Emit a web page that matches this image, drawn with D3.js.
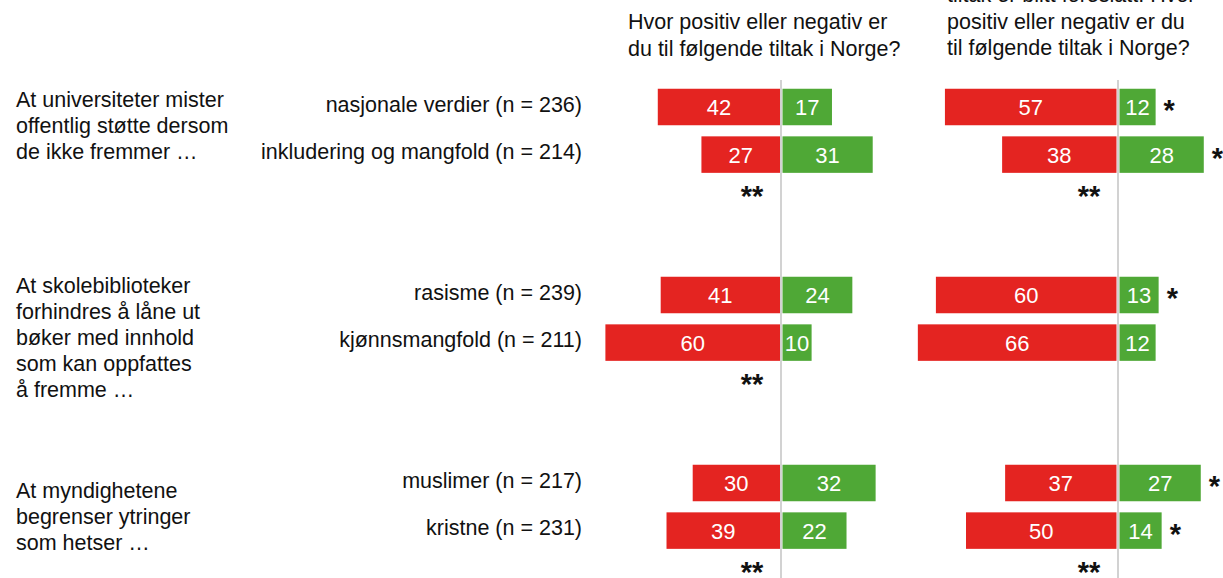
<!DOCTYPE html>
<html><head><meta charset="utf-8">
<script src="https://cdn.jsdelivr.net/npm/d3@7"></script>
<style>
html,body{margin:0;padding:0;background:#fff;}
svg{display:block;font-family:"Liberation Sans",Arial,Helvetica,sans-serif;}
</style></head>
<body><svg id="c" width="1223" height="578"></svg>
<script>
// ---- data ----
const groupLabels = [
  ["At universiteter mister","offentlig støtte dersom","de ikke fremmer …"],
  ["At skolebiblioteker","forhindres å låne ut","bøker med innhold","som kan oppfattes","å fremme …"],
  ["At myndighetene","begrenser ytringer","som hetser …"]
];
const categories = [
  "nasjonale verdier (n = 236)","inkludering og mangfold (n = 214)",
  "rasisme (n = 239)","kjønnsmangfold (n = 211)",
  "muslimer (n = 217)","kristne (n = 231)"
];
const categoryGroup = [0,0,1,1,2,2];
const negativeNow = [42,27,41,60,30,39];
const positiveNow = [17,31,24,10,32,22];
const negativeProposed = [57,38,60,66,37,50];
const positiveProposed = [12,28,13,12,27,14];
const starsProposed = ["*","*","*","","*","*"];
const groupStarsNow = ["**","**","**"];
const groupStarsProposed = ["**","","**"];
const titleNow = ["Hvor positiv eller negativ er","du til følgende tiltak i Norge?"];
const titleProposed = ["tiltak er blitt foreslått. Hvor","positiv eller negativ er du","til følgende tiltak i Norge?"];

// ---- layout ----
const svg = d3.select("#c");
const RED = "#e42421", GREEN = "#4fa836", GRID = "#d2d2d2";
const FONT = 21.5;
const STAR = 29;
const rowY = d3.scaleLinear().domain([0, 2]).range([107, 483]); // centre of first row in each group
const rowStep = 47.6;
const barH = 36.5;
const yOf = i => rowY(categoryGroup[i]) + (i % 2) * rowStep;

const panels = [
  {cx: 781, gap: 1, scale: d3.scaleLinear().domain([0,100]).range([0,291]), neg: negativeNow, pos: positiveNow,
   stars: null, gstars: groupStarsNow, title: titleNow, tx: 628, ty: [29, 56]},
  {cx: 1118, gap: 1.5, scale: d3.scaleLinear().domain([0,100]).range([0,301]), neg: negativeProposed, pos: positiveProposed,
   stars: starsProposed, gstars: groupStarsProposed, title: titleProposed, tx: 947, ty: [2, 29, 55]}
];

// group labels
const groupOffsets = [-0.5, -2, 14.5];
groupLabels.forEach((lines, g) => {
  const t = svg.append("text").attr("font-size", FONT).attr("fill", "#111");
  lines.forEach((l, k) => {
    t.append("tspan").attr("x", 16).attr("y", rowY(g) + groupOffsets[g] + k * 26).text(l);
  });
});

// category labels
svg.selectAll("text.cat").data(categories).join("text")
  .attr("class","cat")
  .attr("x", 582).attr("y", (d,i) => yOf(i) + 4.5)
  .attr("text-anchor","end").attr("font-size", FONT).attr("fill","#111")
  .text(d => d);

panels.forEach(p => {
  // title
  const t = svg.append("text").attr("font-size", FONT).attr("fill","#111");
  p.title.forEach((l,k) => t.append("tspan").attr("x", p.tx).attr("y", p.ty[k]).text(l));

  // centre line
  svg.append("line").attr("x1", p.cx).attr("x2", p.cx).attr("y1", 80).attr("y2", 578)
    .attr("stroke", GRID).attr("stroke-width", 2);

  const g = svg.append("g");
  const negEnd = p.cx - p.gap, posStart = p.cx + 1.5;
  g.selectAll("rect.neg").data(p.neg).join("rect").attr("class","neg")
    .attr("x", d => negEnd - p.scale(d)).attr("width", d => p.scale(d))
    .attr("y", (d,i) => yOf(i) - barH/2).attr("height", barH).attr("fill", RED);
  g.selectAll("rect.pos").data(p.pos).join("rect").attr("class","pos")
    .attr("x", posStart).attr("width", d => p.scale(d))
    .attr("y", (d,i) => yOf(i) - barH/2).attr("height", barH).attr("fill", GREEN);
  // values
  g.selectAll("text.nv").data(p.neg).join("text").attr("class","nv")
    .attr("x", d => negEnd - p.scale(d)/2).attr("y", (d,i) => yOf(i) + 8)
    .attr("text-anchor","middle").attr("font-size", 22).attr("fill","#fff").text(d => d);
  g.selectAll("text.pv").data(p.pos).join("text").attr("class","pv")
    .attr("x", d => posStart + p.scale(d)/2).attr("y", (d,i) => yOf(i) + 8)
    .attr("text-anchor","middle").attr("font-size", 22).attr("fill","#fff").text(d => d);
  // row stars
  if (p.stars) {
    g.selectAll("text.st").data(p.stars).join("text").attr("class","st")
      .attr("x", (d,i) => posStart + p.scale(p.pos[i]) + 8).attr("y", (d,i) => yOf(i) + 13)
      .attr("font-size", STAR).attr("font-weight","bold").attr("fill","#111").text(d => d);
  }
  // group stars
  g.selectAll("text.gs").data(p.gstars).join("text").attr("class","gs")
    .attr("x", p.cx - 29).attr("y", (d,gi) => rowY(gi) + rowStep + 37 + 14)
    .attr("text-anchor","middle").attr("font-size", STAR).attr("font-weight","bold").attr("fill","#111").text(d => d);
});
</script></body></html>
